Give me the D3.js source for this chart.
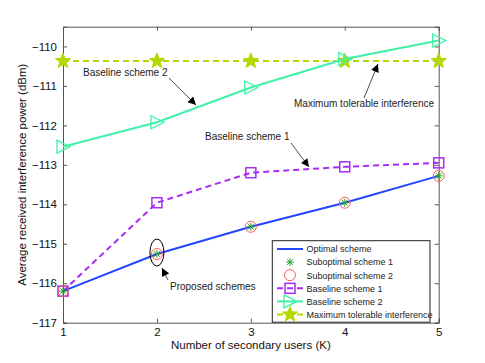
<!DOCTYPE html>
<html>
<head>
<meta charset="utf-8">
<script src="https://cdn.jsdelivr.net/npm/d3@7"></script>
<style>
  body { margin: 0; background: #fff; }
  text { font-family: "Liberation Sans", Arial, sans-serif; }
</style>
</head>
<body>
<svg id="chart" width="485" height="363"></svg>
<script>
/* ── Data ─────────────────────────────────────────────────────── */
const users       = [1, 2, 3, 4, 5];
const optimal     = [-116.2, -115.26, -114.57, -113.96, -113.28];
const subopt1     = [-116.2, -115.26, -114.57, -113.96, -113.28];
const subopt2     = [-116.2, -115.26, -114.57, -113.96, -113.28];
const baseline1   = [-116.2, -113.96, -113.2, -113.05, -112.95];
const baseline2   = [-112.54, -111.92, -111.04, -110.32, -109.85];
const maxTolerable = [-110.37, -110.37, -110.37, -110.37, -110.37];
const yTicks      = [-117, -116, -115, -114, -113, -112, -111, -110];

const C = {
  optimal: "#2147ff",
  sub1: "#2aa02a",
  sub2: "#ff5a5a",
  base1: "#a72cf5",
  base2: "#3ff2a6",
  maxI: "#b4d800",
  axis: "#555"
};

/* ── Layout ───────────────────────────────────────────────────── */
const svg = d3.select("#chart");
const L = 63, R = 438.7, T = 26.7, B = 322.7;

const x = d3.scaleLinear().domain([1, 5]).range([L, R]);
const y = d3.scaleLinear().domain([-117, -109.5]).range([B, T]);

/* ── Axes (ticks point inward, box on all four sides) ─────────── */
const fmt = d => d3.format("d")(d).replace("-", "\u2212");
const ax = svg.append("g").attr("class", "axes");

ax.append("g").attr("transform", `translate(0,${B})`)
  .call(d3.axisBottom(x).tickValues(users).tickSize(-4).tickPadding(5).tickFormat(d3.format("d")));
ax.append("g").attr("transform", `translate(0,${T})`)
  .call(d3.axisTop(x).tickValues(users).tickSize(-4).tickFormat(""));
ax.append("g").attr("transform", `translate(${L},0)`)
  .call(d3.axisLeft(y).tickValues(yTicks).tickSize(-4).tickPadding(6).tickFormat(fmt));
ax.append("g").attr("transform", `translate(${R},0)`)
  .call(d3.axisRight(y).tickValues(yTicks).tickSize(-4).tickFormat(""));

ax.selectAll(".domain, .tick line").attr("stroke", C.axis);
ax.selectAll(".tick text").attr("fill", "#111").style("font-size", "11.5px");

/* axis labels */
svg.append("text")
  .attr("x", (L + R) / 2).attr("y", 349)
  .attr("text-anchor", "middle").style("font-size", "11.5px").attr("fill", "#111")
  .text("Number of secondary users (K)");
svg.append("text")
  .attr("transform", `translate(26,${(T + B) / 2}) rotate(-90)`)
  .attr("text-anchor", "middle").style("font-size", "11.5px").attr("fill", "#111")
  .text("Average received interference power (dBm)");

/* ── Marker helpers ───────────────────────────────────────────── */
function starPath(r) {
  const pts = [];
  for (let i = 0; i < 10; i++) {
    const a = -Math.PI / 2 + i * Math.PI / 5;
    const rr = i % 2 === 0 ? r : r * 0.42;
    pts.push([rr * Math.cos(a), rr * Math.sin(a)]);
  }
  return "M" + pts.map(p => p.join(",")).join("L") + "Z";
}
function drawMarker(g, kind, cx, cy, color) {
  const m = g.append("g").attr("transform", `translate(${cx},${cy})`);
  if (kind === "square") {
    m.append("rect").attr("x", -5).attr("y", -5).attr("width", 10).attr("height", 10)
      .attr("fill", "none").attr("stroke", color).attr("stroke-width", 1.5);
  } else if (kind === "triangle") {
    m.append("path").attr("d", "M-6,-6.5L7,0L-6,6.5Z")
      .attr("fill", "none").attr("stroke", color).attr("stroke-width", 1.3);
  } else if (kind === "star") {
    m.append("path").attr("d", starPath(8)).attr("fill", color).attr("stroke", color);
  } else if (kind === "circle") {
    m.append("circle").attr("r", 5.5).attr("fill", "none")
      .attr("stroke", color).attr("stroke-width", 1);
  } else if (kind === "asterisk") {
    for (let i = 0; i < 4; i++) {
      const a = i * Math.PI / 4, r = 4;
      m.append("line")
        .attr("x1", -r * Math.cos(a)).attr("y1", -r * Math.sin(a))
        .attr("x2", r * Math.cos(a)).attr("y2", r * Math.sin(a))
        .attr("stroke", color).attr("stroke-width", 1);
    }
  }
}

/* ── Series ───────────────────────────────────────────────────── */
const series = [
  { name: "Maximum tolerable interference", values: maxTolerable, color: C.maxI, dash: "6,4", marker: "star", line: true },
  { name: "Baseline scheme 2", values: baseline2, color: C.base2, dash: null, marker: "triangle", line: true },
  { name: "Baseline scheme 1", values: baseline1, color: C.base1, dash: "6,4", marker: "square", line: true },
  { name: "Optimal scheme", values: optimal, color: C.optimal, dash: null, marker: null, line: true },
  { name: "Suboptimal scheme 2", values: subopt2, color: C.sub2, dash: null, marker: "circle", line: false },
  { name: "Suboptimal scheme 1", values: subopt1, color: C.sub1, dash: null, marker: "asterisk", line: false }
];

const lineGen = d3.line().x((d, i) => x(users[i])).y(d => y(d));
const plot = svg.append("g").attr("class", "series");

for (const s of series) {
  if (s.line) {
    plot.append("path").datum(s.values)
      .attr("d", lineGen).attr("fill", "none")
      .attr("stroke", s.color).attr("stroke-width", 2)
      .attr("stroke-dasharray", s.dash);
  }
  if (s.marker) {
    s.values.forEach((v, i) => drawMarker(plot, s.marker, x(users[i]), y(v), s.color));
  }
}

/* ── Annotations ──────────────────────────────────────────────── */
const ann = svg.append("g").attr("class", "annotations");
svg.append("defs").append("marker")
  .attr("id", "arrow").attr("viewBox", "0 0 10 10")
  .attr("refX", 10).attr("refY", 5)
  .attr("markerWidth", 9).attr("markerHeight", 8)
  .attr("markerUnits", "userSpaceOnUse")
  .attr("orient", "auto")
  .append("path").attr("d", "M0,0L10,5L0,10Z").attr("fill", "#000");

function annotate(text, tx, ty, x1, y1, x2, y2) {
  ann.append("text").attr("x", tx).attr("y", ty)
    .style("font-size", "10px").attr("fill", "#222").text(text);
  ann.append("line").attr("x1", x1).attr("y1", y1).attr("x2", x2).attr("y2", y2)
    .attr("stroke", "#000").attr("stroke-width", 0.7).attr("marker-end", "url(#arrow)");
}
annotate("Baseline scheme 2", 83, 76, 169, 78, 196, 105);
annotate("Maximum tolerable interference", 294, 107, 364, 98, 378, 64);
annotate("Baseline scheme 1", 205, 140, 291, 143, 309, 167);
annotate("Proposed schemes", 170, 290, 168, 280, 162, 268);

ann.append("ellipse")
  .attr("cx", x(2)).attr("cy", 252.5).attr("rx", 7).attr("ry", 13.5)
  .attr("fill", "none").attr("stroke", "#000").attr("stroke-width", 1);

/* ── Legend ───────────────────────────────────────────────────── */
const legendItems = [
  { name: "Optimal scheme", color: C.optimal, dash: null, marker: null, line: true },
  { name: "Suboptimal scheme 1", color: C.sub1, dash: null, marker: "asterisk", line: false },
  { name: "Suboptimal scheme 2", color: C.sub2, dash: null, marker: "circle", line: false },
  { name: "Baseline scheme 1", color: C.base1, dash: "6,4", marker: "square", line: true },
  { name: "Baseline scheme 2", color: C.base2, dash: null, marker: "triangle", line: true },
  { name: "Maximum tolerable interference", color: C.maxI, dash: "6,4", marker: "star", line: true }
];
const lg = svg.append("g").attr("class", "legend");
lg.append("rect").attr("x", 272.3).attr("y", 240.7)
  .attr("width", 157.7).attr("height", 81.5)
  .attr("fill", "#fff").attr("stroke", "#222").attr("stroke-width", 1);

legendItems.forEach((d, i) => {
  const cy = 249 + i * 13.1;
  if (d.line) {
    lg.append("line").attr("x1", 277).attr("x2", 303).attr("y1", cy).attr("y2", cy)
      .attr("stroke", d.color).attr("stroke-width", 2).attr("stroke-dasharray", d.dash);
  }
  if (d.marker) drawMarker(lg, d.marker, 290, cy, d.color);
  lg.append("text").attr("x", 306.5).attr("y", cy + 3.3)
    .style("font-size", "9px").attr("fill", "#222").text(d.name);
});
</script>
</body>
</html>
